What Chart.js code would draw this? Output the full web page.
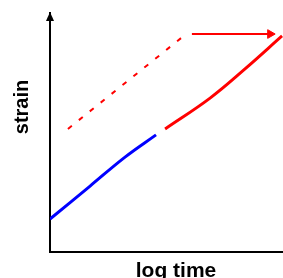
<!DOCTYPE html>
<html>
<head>
<meta charset="utf-8">
<script src="https://cdn.jsdelivr.net/npm/chart.js@4/dist/chart.umd.min.js"></script>
<style>
  body { margin: 0; background: #fff; }
  canvas { display: block; }
</style>
</head>
<body>
<canvas id="chart" width="283" height="278"></canvas>
<script>
// log time (arbitrary units) vs strain (arbitrary units)
const blueX = [0, 1.72, 3.22, 4.55];
const blueY = [1.38, 2.76, 3.97, 4.90];

const redX = [4.94, 6.87, 8.37, 9.96];
const redY = [5.15, 6.44, 7.66, 9.04];

const dashX = [0.77, 5.79];
const dashY = [5.15, 9.08];

const shiftX = [6.09, 9.45];
const shiftY = [9.12, 9.12];

const xLabel = "log time";
const yLabel = "strain";

function pts(xs, ys) {
    return xs.map((x, i) => ({ x: x, y: ys[i] }));
}

// axis labels + arrow head on the y axis
const decor = {
    id: "decor",
    afterDraw(chart) {
        const ctx = chart.ctx;
        const a = chart.chartArea;
        ctx.save();
        ctx.fillStyle = "#000";
        ctx.beginPath();
        ctx.moveTo(a.left, a.top - 1);
        ctx.lineTo(a.left - 4, a.top + 8);
        ctx.lineTo(a.left + 4, a.top + 8);
        ctx.closePath();
        ctx.fill();

        ctx.font = "bold 21px 'Liberation Sans', Arial, sans-serif";
        ctx.textAlign = "center";
        ctx.textBaseline = "alphabetic";
        ctx.fillText(xLabel, a.left + 126, a.bottom + 25);

        ctx.font = "bold 20px 'Liberation Sans', Arial, sans-serif";
        ctx.translate(a.left - 22, a.top + 94);
        ctx.rotate(-Math.PI / 2);
        ctx.fillText(yLabel, 0, 0);
        ctx.restore();
    }
};

new Chart(document.getElementById("chart"), {
    type: "line",
    data: {
        datasets: [
            {
                data: pts(blueX, blueY),
                borderColor: "#0000ff",
                borderWidth: 3,
                pointRadius: 0,
                tension: 0.4
            },
            {
                data: pts(redX, redY),
                borderColor: "#ff0000",
                borderWidth: 3,
                pointRadius: 0,
                tension: 0.4
            },
            {
                data: pts(dashX, dashY),
                borderColor: "#ff0000",
                borderWidth: 2,
                borderDash: [5, 9],
                pointRadius: 0
            },
            {
                data: pts(shiftX, shiftY),
                borderColor: "#ff0000",
                backgroundColor: "#ff0000",
                borderWidth: 2,
                pointStyle: "triangle",
                rotation: 90,
                pointRadius: [0, 5],
                pointBorderWidth: 1
            }
        ]
    },
    options: {
        responsive: false,
        animation: false,
        layout: { autoPadding: false, padding: { top: 13, right: 0, left: 0, bottom: 0 } },
        plugins: {
            legend: { display: false },
            tooltip: { enabled: false }
        },
        scales: {
            x: {
                type: "linear",
                min: 0,
                max: 10,
                grid: { display: false },
                ticks: { display: false },
                border: { display: true, color: "#000", width: 2 },
                afterFit(s) { s.height = 26; }
            },
            y: {
                type: "linear",
                min: 0,
                max: 10,
                grid: { display: false },
                ticks: { display: false },
                border: { display: true, color: "#000", width: 2 },
                afterFit(s) { s.width = 50; }
            }
        }
    },
    plugins: [decor]
});
</script>
</body>
</html>
